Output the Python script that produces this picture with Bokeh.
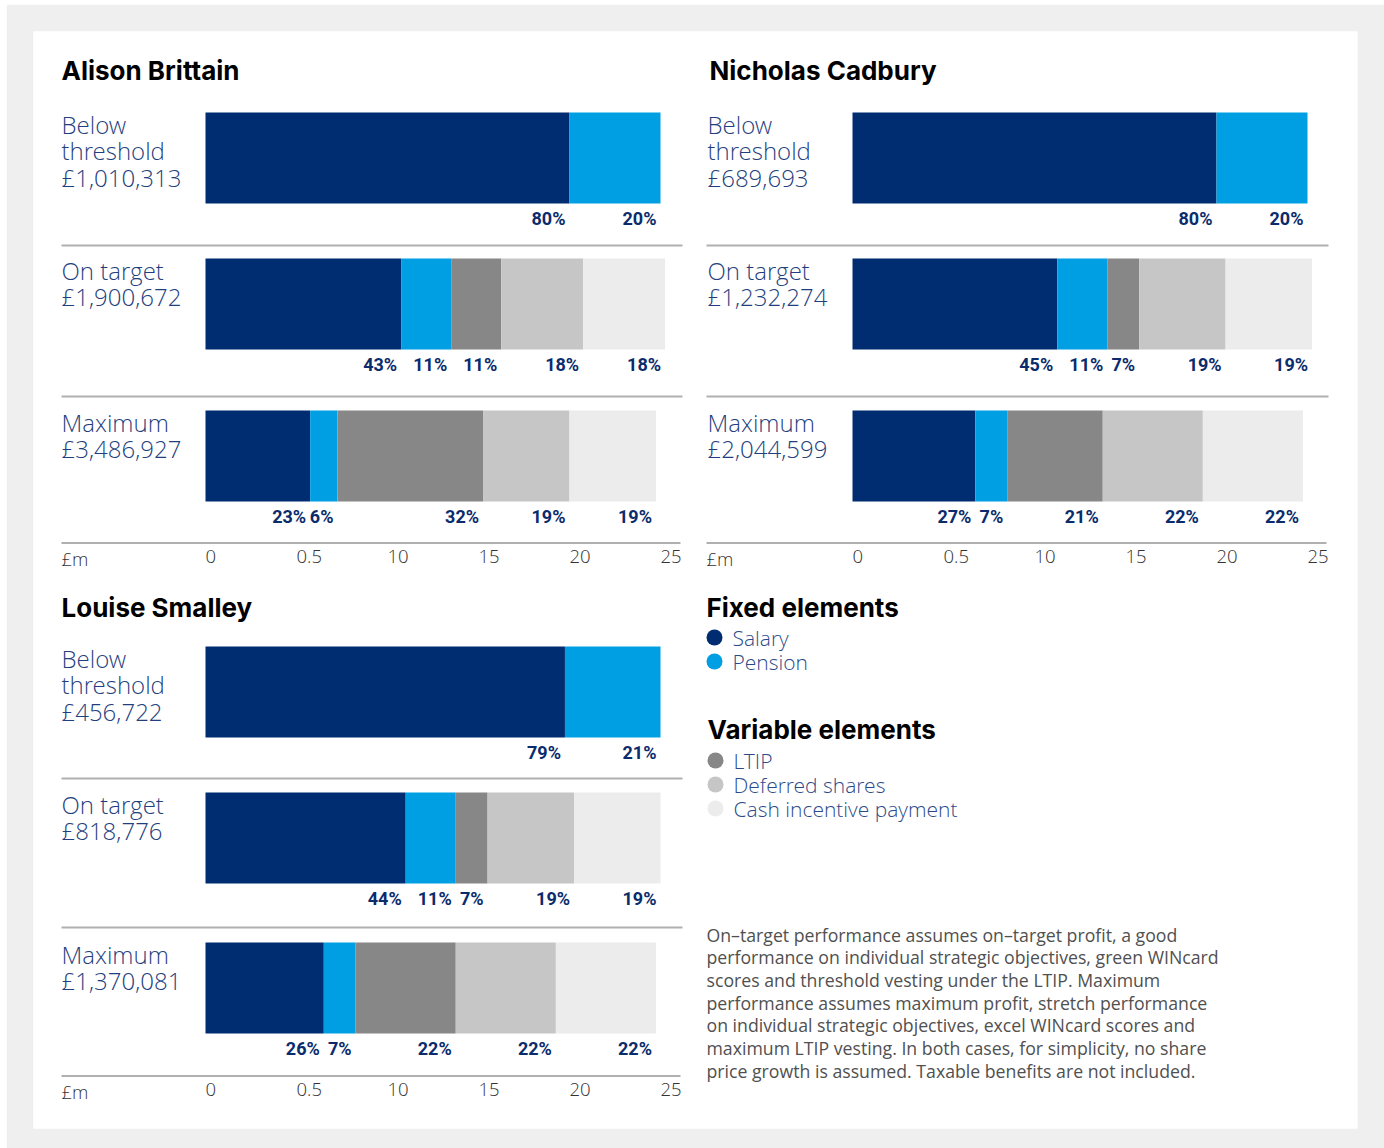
from bokeh.plotting import figure
from bokeh.models import Range1d, ColumnDataSource
from bokeh.core.properties import value
from bokeh.embed import file_html
from bokeh.resources import INLINE

# ---------------- data ----------------
components = ["Salary", "Pension", "LTIP", "Deferred shares", "Cash incentive payment"]
component_colors = ["#002d72", "#009fe3", "#878787", "#c6c6c6", "#ececec"]

scenario_labels = [["Below", "threshold"], ["On target"], ["Maximum"]]

directors = ["Alison Brittain", "Nicholas Cadbury", "Louise Smalley"]

alison_totals = ["£1,010,313", "£1,900,672", "£3,486,927"]
nicholas_totals = ["£689,693", "£1,232,274", "£2,044,599"]
louise_totals = ["£456,722", "£818,776", "£1,370,081"]

# percentage split: Salary, Pension, LTIP, Deferred shares, Cash incentive
alison_below = [80, 20, 0, 0, 0]
alison_target = [43, 11, 11, 18, 18]
alison_max = [23, 6, 32, 19, 19]

nicholas_below = [80, 20, 0, 0, 0]
nicholas_target = [45, 11, 7, 19, 19]
nicholas_max = [27, 7, 21, 22, 22]

louise_below = [79, 21, 0, 0, 0]
louise_target = [44, 11, 7, 19, 19]
louise_max = [26, 7, 22, 22, 22]

gbp_ticks = [0, 5, 10, 15, 20, 25]
gbp_tick_labels = ["0", "0.5", "10", "15", "20", "25"]
axis_unit = "£m"

fixed_title = "Fixed elements"
fixed_items = ["Salary", "Pension"]
variable_title = "Variable elements"
variable_items = ["LTIP", "Deferred shares", "Cash incentive payment"]

note_lines = [
    "On–target performance assumes on–target profit, a good",
    "performance on individual strategic objectives, green WINcard",
    "scores and threshold vesting under the LTIP. Maximum",
    "performance assumes maximum profit, stretch performance",
    "on individual strategic objectives, excel WINcard scores and",
    "maximum LTIP vesting. In both cases, for simplicity, no share",
    "price growth is assumed. Taxable benefits are not included.",
]

panel_data = [
    (directors[0], alison_totals, [alison_below, alison_target, alison_max]),
    (directors[1], nicholas_totals, [nicholas_below, nicholas_target, nicholas_max]),
    (directors[2], louise_totals, [louise_below, louise_target, louise_max]),
]

# ---------------- layout constants (page pixels) ----------------
ML, MT = 6, 4                      # outer offset of grey card
W, H = 1384 - ML, 1148 - MT
FX0, FX1, FY0, FY1 = 33, 1357, 31, 1128
PX_PER_PCT = 4.55
PX_PER_GBP = PX_PER_PCT * 4
BAR_H = 91

NAVY_TXT = "#1f3f7e"
PCT_TXT = "#0b2c6c"
HEAD_FONT = value("Inter")
BODY_FONT = value("Open Sans")
LIGHT_FONT = value("Open Sans Light, Open Sans")
PCT_FONT = value("Roboto")

panels_layout = [
    dict(title_x=61, label_x=61, bar_x=205, title_y=70, tops=[112, 258, 410],
         seps=[245, 396], axis_y=542.5, line_x0=61, line_x1=682),
    dict(title_x=709, label_x=707, bar_x=852, title_y=70, tops=[112, 258, 410],
         seps=[245, 396], axis_y=542.5, line_x0=706, line_x1=1328),
    dict(title_x=61, label_x=61, bar_x=205, title_y=607, tops=[646, 792, 942],
         seps=[778, 927], axis_y=1075.5, line_x0=61, line_x1=682),
]
LABEL_LINE_OFFS = [11.5, 38, 64.5]

p = figure(width=W, height=H, output_backend="svg", toolbar_location=None,
           x_range=Range1d(FX0, FX1), y_range=Range1d(FY1, FY0),
           min_border_left=FX0 - ML, min_border_right=ML + W - FX1,
           min_border_top=FY0 - MT, min_border_bottom=MT + H - FY1,
           x_axis_location=None, y_axis_location=None)
p.margin = (MT, 0, 0, ML)
p.grid.visible = False
p.outline_line_color = None
p.background_fill_color = "white"
p.border_fill_color = "#efefef"

for i, ((name, totals, splits), lay) in enumerate(zip(panel_data, panels_layout)):
    xb = lay["bar_x"]
    pct_name = f"pct{i}"
    gbp_name = f"gbp{i}"
    p.extra_x_ranges[pct_name] = Range1d((FX0 - xb) / PX_PER_PCT, (FX1 - xb) / PX_PER_PCT)
    p.extra_x_ranges[gbp_name] = Range1d((FX0 - xb) / PX_PER_GBP, (FX1 - xb) / PX_PER_GBP)

    # title
    p.text(x=[lay["title_x"]], y=[lay["title_y"]], text=[name],
           text_font=HEAD_FONT, text_font_style="bold", text_font_size="26px",
           text_color="#000000", text_baseline="middle", text_align="left")

    lefts, rights, ys, cols = [], [], [], []
    lab_x, lab_y, lab_t = [], [], []
    for j, split in enumerate(splits):
        top = lay["tops"][j]
        cum = 0
        for k, v in enumerate(split):
            if v <= 0:
                continue
            lefts.append(cum)
            rights.append(cum + v)
            ys.append(top + BAR_H / 2)
            cols.append(component_colors[k])
            lab_x.append(cum + v)
            lab_y.append(top + BAR_H + 15)
            lab_t.append(f"{v}%")
            cum += v
        # scenario label, one text per line
        lines = scenario_labels[j] + [totals[j]]
        p.text(x=[lay["label_x"]] * len(lines),
               y=[top + LABEL_LINE_OFFS[m] for m in range(len(lines))],
               text=lines, text_font=LIGHT_FONT, text_font_size="24px",
               text_color=NAVY_TXT, text_baseline="middle", text_align="left")

    src = ColumnDataSource(dict(left=lefts, right=rights, y=ys, color=cols))
    p.hbar(y="y", left="left", right="right", height=BAR_H, color="color",
           line_color=None, source=src, x_range_name=pct_name)

    lsrc = ColumnDataSource(dict(x=lab_x, y=lab_y, t=lab_t))
    p.text(x="x", y="y", text="t", source=lsrc, x_range_name=pct_name,
           x_offset=-4, text_align="right", text_baseline="middle",
           text_font=PCT_FONT, text_font_style="bold", text_font_size="18px",
           text_color=PCT_TXT)

    # separators
    for s in lay["seps"]:
        p.segment(x0=[lay["line_x0"]], x1=[lay["line_x1"]], y0=[s], y1=[s],
                  line_color="#b0b0b0", line_width=2)
    # axis line
    p.segment(x0=[lay["line_x0"]], x1=[lay["line_x1"] - 2], y0=[lay["axis_y"]],
              y1=[lay["axis_y"]], line_color="#b0b0b0", line_width=2)
    # tick labels
    p.text(x=gbp_ticks, y=[lay["axis_y"] + 13.5] * len(gbp_ticks), text=gbp_tick_labels,
           x_range_name=gbp_name, text_align="left", text_baseline="middle",
           text_font=LIGHT_FONT, text_font_size="18.5px", text_color="#333333")
    p.text(x=[lay["line_x0"]], y=[lay["axis_y"] + 15], text=[axis_unit],
           text_align="left", text_baseline="middle",
           text_font=LIGHT_FONT, text_font_size="18.5px", text_color="#333333")

# ---------------- legend ----------------
LEG_X = 706
p.text(x=[LEG_X], y=[607], text=[fixed_title], text_font=HEAD_FONT, text_font_style="bold",
       text_font_size="26px", text_color="#000000", text_baseline="middle")
p.text(x=[LEG_X + 1], y=[729], text=[variable_title], text_font=HEAD_FONT, text_font_style="bold",
       text_font_size="26px", text_color="#000000", text_baseline="middle")

leg_y_fixed = [637, 661]
leg_y_var = [760, 784, 808]
p.scatter(x=[714] * 2, y=leg_y_fixed, size=16, marker="circle",
          color=component_colors[:2], line_color=None)
p.scatter(x=[715] * 3, y=leg_y_var, size=16, marker="circle",
          color=component_colors[2:], line_color=None)
p.text(x=[732] * 2, y=leg_y_fixed, text=fixed_items, text_font=LIGHT_FONT,
       text_font_size="21px", text_color="#2b4a88", text_baseline="middle")
p.text(x=[733] * 3, y=leg_y_var, text=variable_items, text_font=LIGHT_FONT,
       text_font_size="21px", text_color="#2b4a88", text_baseline="middle")

# ---------------- note ----------------
NOTE_Y0, NOTE_STEP = 934, 22.7
p.text(x=[LEG_X] * len(note_lines), y=[NOTE_Y0 + NOTE_STEP * k for k in range(len(note_lines))],
       text=note_lines, text_font=BODY_FONT, text_font_size="17.7px",
       text_color="#505050", text_baseline="middle")

open("out.html", "w").write(file_html(p, INLINE))
